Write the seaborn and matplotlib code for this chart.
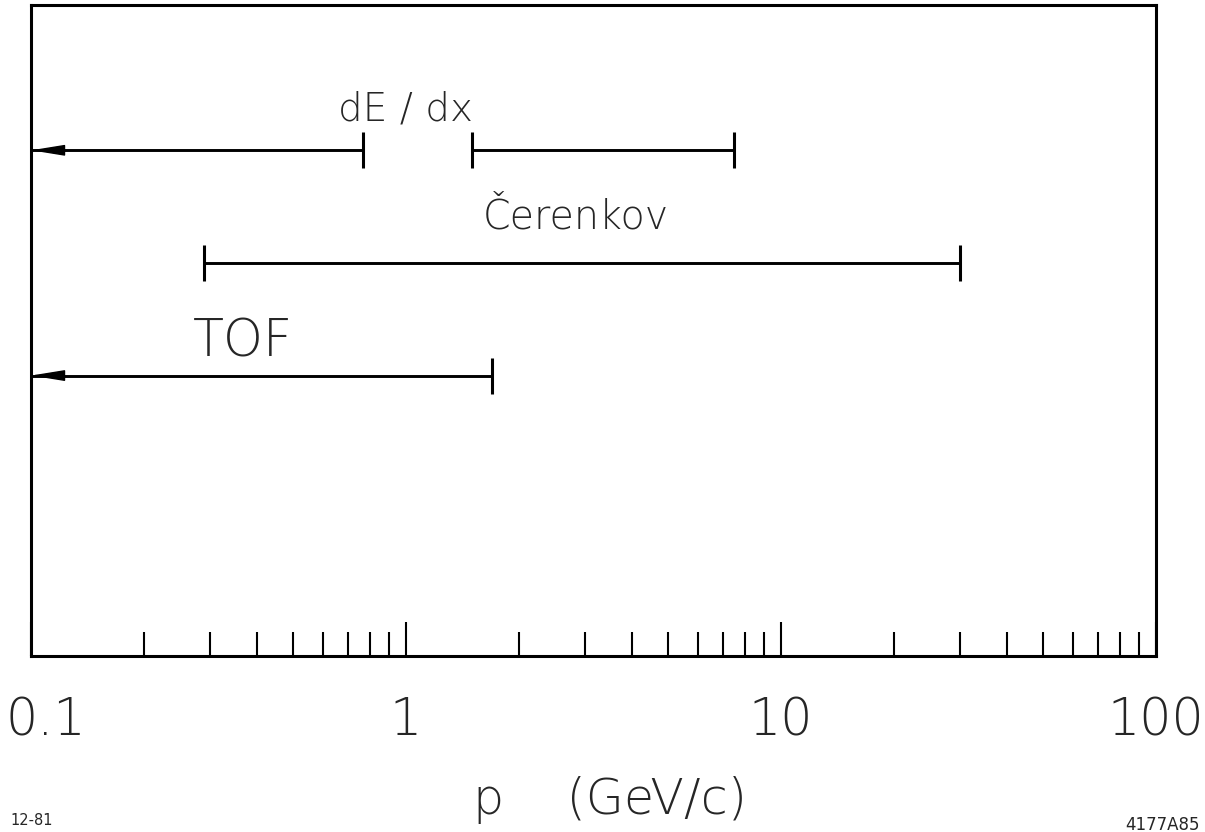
import numpy as np
import pandas as pd
import matplotlib
matplotlib.use("Agg")
import matplotlib.pyplot as plt
from matplotlib.ticker import FixedLocator, LogLocator, NullFormatter
from matplotlib.transforms import ScaledTranslation
import seaborn as sns

# Momentum ranges (GeV/c) covered by each particle-identification technique.
# A lower bound of None means the range continues below the plotted axis.
techniques = ["dE / dx", "Čerenkov", "TOF"]
dedx_ranges = [(None, 0.77), (1.5, 7.5)]
cerenkov_ranges = [(0.29, 30.0)]
tof_ranges = [(None, 1.7)]

major_ticks = [0.1, 1, 10, 100]
tick_labels = ["0.1", "1", "10", "100"]
p_limits = (0.1, 100)

sns.set_style("ticks")
plt.rcParams["font.family"] = ["DejaVu Sans"]
plt.rcParams["font.weight"] = "light"

fig = plt.figure(figsize=(12.05, 8.32), dpi=100)
ax = fig.add_axes([31 / 1205, 176 / 832, 1125 / 1205, 651 / 832])
ax.set_xscale("log")
ax.set_xlim(*p_limits)
ax.set_ylim(-1.49, 4.29)

# Build line segments and closed end caps, one row per technique
all_ranges = [dedx_ranges, cerenkov_ranges, tof_ranges]
seg_rows, cap_rows, open_rows = [], [], []
for i, (name, ranges) in enumerate(zip(techniques, all_ranges)):
    level = len(techniques) - i
    for j, (lo, hi) in enumerate(ranges):
        start = p_limits[0] if lo is None else lo
        seg = f"{i}-{j}"
        seg_rows += [dict(seg=seg, p=start, level=level),
                     dict(seg=seg, p=hi, level=level)]
        cap_rows.append(dict(p=hi, level=level))
        if lo is None:
            open_rows.append(dict(p=start, level=level))
        else:
            cap_rows.append(dict(p=lo, level=level))

segments = pd.DataFrame(seg_rows)
caps = pd.DataFrame(cap_rows)
open_ends = pd.DataFrame(open_rows)

sns.lineplot(data=segments, x="p", y="level", units="seg", estimator=None,
             sort=False, color="black", linewidth=2.1, legend=False, ax=ax)
sns.scatterplot(data=caps, x="p", y="level", marker="|", s=26.5 ** 2,
                color="black", linewidth=2.2, legend=False, ax=ax, zorder=3)

# Arrowheads for ranges open towards low momentum
for _, r in open_ends.iterrows():
    ax.annotate("", xy=(r.p, r.level), xytext=(r.p * 10 ** (30 / 375), r.level),
                arrowprops=dict(arrowstyle="-|>,head_length=21,head_width=3.4",
                                mutation_scale=1, color="black", lw=1,
                                shrinkA=0, shrinkB=0))

# Technique names above their ranges
label_spots = {"dE / dx": (1.0, 21.5, 28), "Čerenkov": (2.84, 24.5, 28.5),
               "TOF": (0.367, 14, 36.5)}
for i, name in enumerate(techniques):
    px, off, size = label_spots[name]
    ax.annotate(name, xy=(px, len(techniques) - i), xytext=(0, off),
                textcoords="offset points", ha="center", va="baseline",
                fontsize=size, fontweight="light")

# Axis styling: frame, inward log ticks, large decade labels
for side in ["left", "right", "top", "bottom"]:
    ax.spines[side].set_visible(True)
    ax.spines[side].set_linewidth(2.2)
    ax.spines[side].set_color("black")

ax.xaxis.set_major_locator(FixedLocator(major_ticks))
ax.set_xticklabels(tick_labels)
ax.xaxis.set_minor_locator(LogLocator(base=10, subs=np.arange(2, 10)))
ax.xaxis.set_minor_formatter(NullFormatter())
ax.tick_params(axis="x", which="major", direction="in", length=24.5,
               width=1.5, pad=29, labelsize=36.5, color="black")
ax.tick_params(axis="x", which="minor", direction="in", length=17.3,
               width=1.5, color="black")
ax.set_yticks([])
ax.set_ylabel("")

first = ax.get_xticklabels()[0]
first.set_transform(first.get_transform()
                    + ScaledTranslation(11 / 72, 0, fig.dpi_scale_trans))

ax.set_xlabel("p    (GeV/c)", fontsize=35.5, fontweight="light")
ax.xaxis.set_label_coords(0.515, -0.1836)

fig.text(10 / 1205, 7 / 832, "12-81", fontsize=10.5, ha="left",
         va="baseline", fontweight="normal")
fig.text(1200 / 1205, 2 / 832, "4177A85", fontsize=12, ha="right",
         va="baseline", fontweight="normal")

fig.savefig("out.png", dpi=100)
